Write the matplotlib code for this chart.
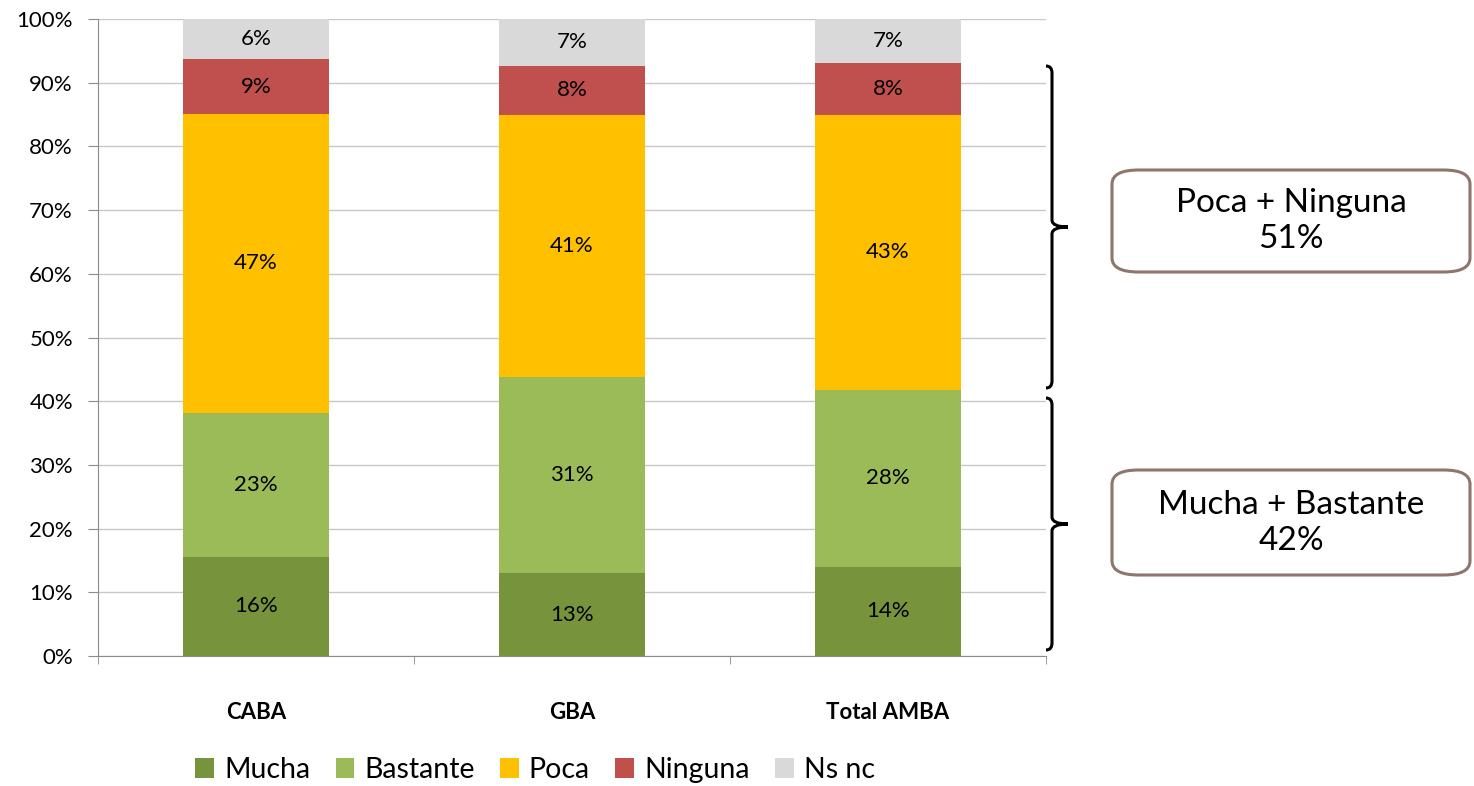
import matplotlib.pyplot as plt
import numpy as np
from matplotlib.patches import FancyBboxPatch, PathPatch
from matplotlib.path import Path

plt.rcParams["font.family"] = ["Lato", "DejaVu Sans"]

categories = ["CABA", "GBA", "Total AMBA"]
series_names = ["Mucha", "Bastante", "Poca", "Ninguna", "Ns nc"]
mucha = [15.6, 13.0, 14.0]
bastante = [22.6, 30.8, 27.8]
poca = [46.9, 41.2, 43.2]
ninguna = [8.6, 7.7, 8.1]
nsnc = [6.3, 7.3, 6.9]
series_colors = ["#77933C", "#9BBB59", "#FFC000", "#C0504D", "#D9D9D9"]

group_labels = ["Poca + Ninguna\n51%", "Mucha + Bastante\n42%"]

W, H = 1474, 786


def fx(px):
    return px / W


def fy(py):
    return 1 - py / H


def brace(fig, x0, x1, top, bottom):
    # curly brace opening to the left, in figure pixel coords
    mid = (top + bottom) / 2
    xl = x0 + 6
    r = 7
    verts = [
        (x0, top), (xl, top), (xl, top + r),
        (xl, mid - r),
        (xl, mid), (x1, mid),
        (x1, mid),
        (xl, mid), (xl, mid + r),
        (xl, bottom - r),
        (xl, bottom), (x0, bottom),
    ]
    codes = [
        Path.MOVETO, Path.CURVE3, Path.CURVE3,
        Path.LINETO,
        Path.CURVE3, Path.CURVE3,
        Path.MOVETO,
        Path.CURVE3, Path.CURVE3,
        Path.LINETO,
        Path.CURVE3, Path.CURVE3,
    ]
    verts = [(fx(a), fy(b)) for a, b in verts]
    fig.patches.append(PathPatch(Path(verts, codes), transform=fig.transFigure,
                                 fill=False, lw=2.2, color="black"))


def main() -> None:
    fig = plt.figure(figsize=(W / 100, H / 100), dpi=100)
    ax = fig.add_axes([fx(98), fy(656), fx(1046) - fx(98), fy(19) - fy(656)])

    data = [mucha, bastante, poca, ninguna, nsnc]
    x = np.arange(len(categories))
    bottom = np.zeros(len(categories))
    handles = []
    for name, vals, color in zip(series_names, data, series_colors):
        vals = np.array(vals) / 100
        b = ax.bar(x, vals, 0.465, bottom=bottom, color=color, label=name, zorder=3)
        handles.append(b)
        for xi, v, bt in zip(x, vals, bottom):
            ax.text(xi, bt + v / 2, f"{round(v * 100):.0f}%", ha="center",
                    va="center", fontsize=16, zorder=4)
        bottom += vals

    ax.set_xlim(-0.5, 2.5)
    ax.set_ylim(0, 1)
    ax.set_yticks(np.linspace(0, 1, 11))
    ax.set_yticklabels([f"{i}%" for i in range(0, 101, 10)], fontsize=16)
    ax.yaxis.grid(True, color="#C8C8C8", lw=1, zorder=0)
    ax.tick_params(axis="y", length=7, color="#8C8C8C", pad=11)

    ax.set_xticks(x)
    ax.set_xticklabels(categories, fontsize=16, fontweight="bold")
    ax.tick_params(axis="x", which="major", length=0, pad=33)
    ax.set_xticks([-0.5, 0.5, 1.5, 2.5], minor=True)
    ax.tick_params(axis="x", which="minor", length=6, color="#8C8C8C")

    for s in ["top", "right"]:
        ax.spines[s].set_visible(False)
    for s in ["left", "bottom"]:
        ax.spines[s].set_color("#8C8C8C")

    fig.legend(handles=handles, loc="center", bbox_to_anchor=(fx(535), fy(770)),
               ncol=5, frameon=False, fontsize=20.5, handlelength=0.65,
               handleheight=0.65, handletextpad=0.35, columnspacing=0.9)

    # braces and group boxes
    brace(fig, 1046, 1068, 66, 388)
    brace(fig, 1046, 1068, 398, 650)
    for (top, bot), label in zip([(170, 272), (470, 575)], group_labels):
        box = FancyBboxPatch((fx(1112), fy(bot)), fx(1470) - fx(1112), fy(top) - fy(bot),
                             boxstyle="round,pad=0,rounding_size=0.018",
                             transform=fig.transFigure, fill=True, facecolor="white",
                             edgecolor="#8E766C", lw=2.2)
        fig.patches.append(box)
        fig.text(fx(1291), fy((top + bot) / 2), label, ha="center", va="center",
                 fontsize=24, linespacing=1.25)

    fig.savefig("out.png", dpi=100)


if __name__ == "__main__":
    main()
